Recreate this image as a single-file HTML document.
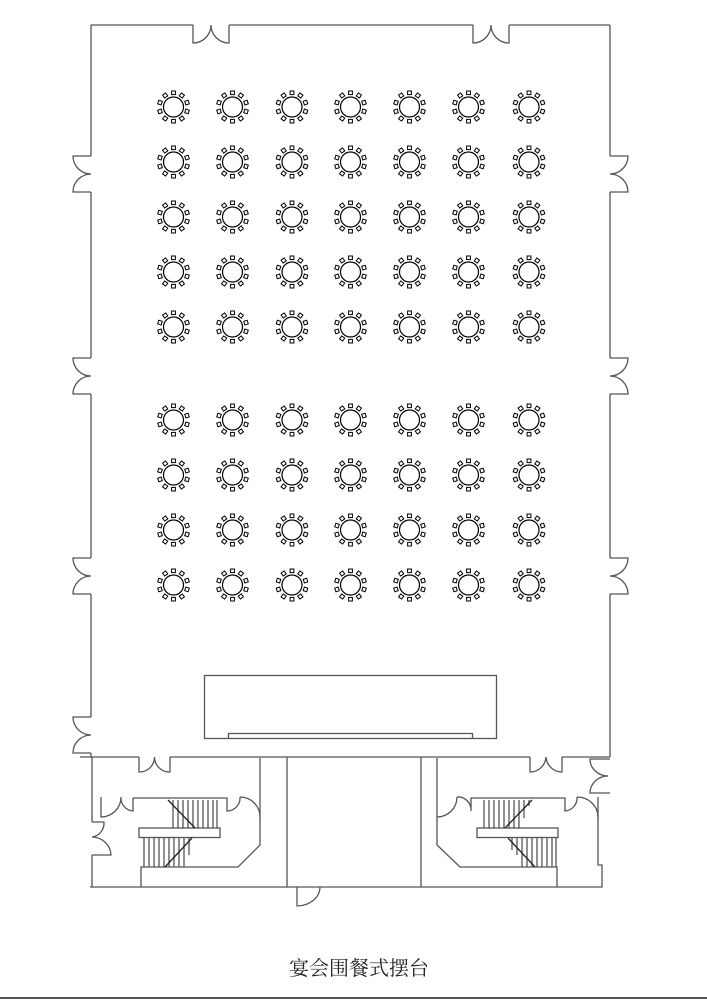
<!DOCTYPE html>
<html><head><meta charset="utf-8"><style>
html,body{margin:0;padding:0;background:#fff;}
svg{display:block}
</style></head><body>
<svg width="707" height="1000" viewBox="0 0 707 1000" xmlns="http://www.w3.org/2000/svg">
<defs>
<g id="c"><rect x="-1.9" y="-16" width="3.8" height="3.6" fill="#fff" stroke="#000" stroke-width="1"/></g>
<g id="t">
<circle r="10" fill="none" stroke="#000" stroke-width="1.2"/>
<use href="#c"/><use href="#c" transform="rotate(36)"/><use href="#c" transform="rotate(72)"/><use href="#c" transform="rotate(108)"/><use href="#c" transform="rotate(144)"/><use href="#c" transform="rotate(180)"/><use href="#c" transform="rotate(216)"/><use href="#c" transform="rotate(252)"/><use href="#c" transform="rotate(288)"/><use href="#c" transform="rotate(324)"/>
</g>
<g id="row">
<use href="#t" x="173.5"/><use href="#t" x="232.5"/><use href="#t" x="292"/><use href="#t" x="350.5"/><use href="#t" x="409.5"/><use href="#t" x="468.5"/><use href="#t" x="529"/>
</g>
</defs>
<g fill="none" stroke="#555" stroke-width="1.3">
<path d="M91,25 H193 M229,25 H473 M509,25 H610"/>
<path d="M193,25 V43 A18,18 0 0 0 211,25 M229,25 V43 A18,18 0 0 1 211,25"/>
<path d="M473,25 V43 A18,18 0 0 0 491,25 M509,25 V43 A18,18 0 0 1 491,25"/>
<path d="M91,25 V156 M91,192 V358 M91,394 V558 M91,594 V717 M91,753 V757"/>
<path d="M91,156 H73 A18,18 0 0 0 91,174 M91,192 H73 A18,18 0 0 1 91,174"/>
<path d="M91,358 H73 A18,18 0 0 0 91,376 M91,394 H73 A18,18 0 0 1 91,376"/>
<path d="M91,558 H73 A18,18 0 0 0 91,576 M91,594 H73 A18,18 0 0 1 91,576"/>
<path d="M91,717 H73 A18,18 0 0 0 91,735 M91,753 H73 A18,18 0 0 1 91,735"/>
<path d="M610,25 V156 M610,192 V358 M610,394 V558 M610,594 V757"/>
<path d="M610,156 H628 A18,18 0 0 1 610,174 M610,192 H628 A18,18 0 0 0 610,174"/>
<path d="M610,358 H628 A18,18 0 0 1 610,376 M610,394 H628 A18,18 0 0 0 610,376"/>
<path d="M610,558 H628 A18,18 0 0 1 610,576 M610,594 H628 A18,18 0 0 0 610,576"/>
<rect x="204.5" y="675.5" width="292" height="63"/>
<path d="M228.5,738.5 V733.5 H472.5 V738.5"/>
<path d="M80,757 H139 M170,757 H530 M562,757 H610"/>
<path d="M139,757 V772 A15,15 0 0 0 154.5,757 M170,757 V772 A15,15 0 0 1 154.5,757"/>
<path d="M530,757 V772 A16,16 0 0 0 546,757 M562,757 V772 A16,16 0 0 1 546,757"/>
<path d="M610,759 H590 A18,17 0 0 0 608,776 M610,793 H590 A18,17 0 0 1 608,776"/>
<path d="M92,757 V822 M92,855 V887 M90,887 H602 V865 H598 V797"/>
<path d="M92,822 H104 A14,14 0 0 1 92,837 M92,855 H111 A19,19 0 0 0 92,837"/>
<path d="M287,757 V887 M421,757 V887"/>
<path d="M297,887 V906 A23,19 0 0 0 320,887"/>
<path d="M101,797 V817 A20,20 0 0 0 121,797 M133,798 V811 A13,13 0 0 1 121,797"/>
<path d="M133,798 H227 V811 A13,13 0 0 0 240,797 M260,817 A20,20 0 0 0 240,797"/>
<path d="M260,758 V845 L238,867 H141 V887"/>
<rect x="139" y="828" width="81" height="9.5"/>
<path d="M173,800 V828 M178,800 V828 M183,800 V828 M188,800 V828 M193,800 V828 M198,800 V828 M203,800 V828 M208,800 V828 M213,800 V828 M217,800 V828"/>
<path d="M168,800 L195,828" stroke="#222"/>
<path d="M144,838 V867 M149,838 V867 M154,838 V867 M159,838 V867 M164,838 V867 M169,838 V867 M174,838 V867 M179,838 V867 M184,838 V867 M189,838 V855"/>
<path d="M192,838 L165,867" stroke="#222"/>
<path d="M437,758 V845 L460,867 H557 V887"/>
<path d="M437,817 A20,20 0 0 0 457,797 M471,811 A13,13 0 0 0 457,797 M471,811 V798 H565 V811 A13,13 0 0 0 577,797 M598,817 A21,20 0 0 0 577,797"/>
<rect x="477" y="828" width="81" height="9.5"/>
<path d="M484,800 V828 M489,800 V828 M494,800 V828 M499,800 V828 M504,800 V828 M509,800 V828 M514,800 V828 M519,800 V828 M524,800 V818 M529,800 V806"/>
<path d="M532,800 L505,828" stroke="#222"/>
<path d="M512,838 V850 M517,838 V855 M522,838 V867 M527,838 V867 M532,838 V867 M537,838 V867 M542,838 V867 M547,838 V867 M552,838 V867 M556,838 V867"/>
<path d="M508,838 L535,867" stroke="#222"/>
</g>
<use href="#row" y="107"/>
<use href="#row" y="162"/>
<use href="#row" y="217"/>
<use href="#row" y="272"/>
<use href="#row" y="327"/>
<use href="#row" y="420"/>
<use href="#row" y="475"/>
<use href="#row" y="530"/>
<use href="#row" y="585"/>
<text x="359" y="975" text-anchor="middle" font-family="'Liberation Serif','Noto Serif CJK SC',serif" font-size="20" fill="#222">宴会围餐式摆台</text>
<line x1="0" y1="998" x2="707" y2="998" stroke="#555" stroke-width="2"/>
</svg>
</body></html>
